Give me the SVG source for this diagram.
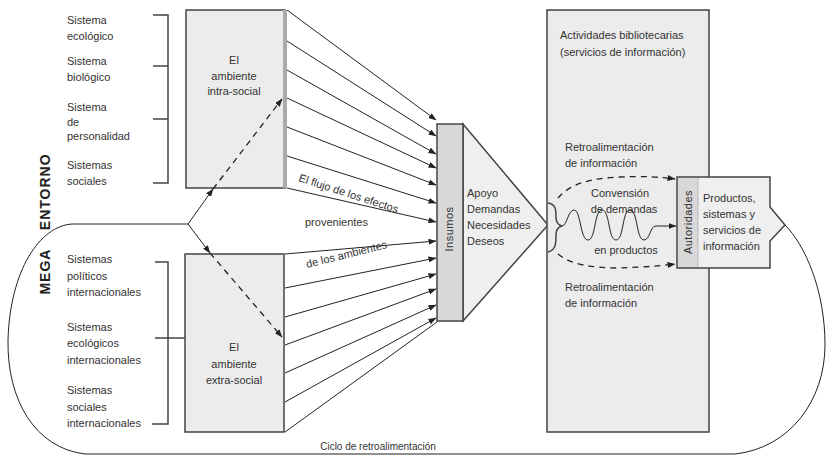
<svg xmlns="http://www.w3.org/2000/svg" width="826" height="456" viewBox="0 0 826 456">
<defs>
<marker id="ah" markerWidth="8" markerHeight="6" refX="7.5" refY="3" orient="auto" markerUnits="userSpaceOnUse">
<path d="M0,0 L8,3 L0,6 z" fill="#222"/>
</marker>
<style>
text{font-family:"Liberation Sans",Arial,sans-serif;font-size:11px;fill:#333}
.box{fill:#ececec;stroke:#444;stroke-width:1.5}
.strip{fill:#d8d8d8;stroke:none}
.ln{stroke:#222;stroke-width:1;fill:none}
.ar{stroke:#222;stroke-width:1;fill:none;marker-end:url(#ah)}
.da{stroke:#222;stroke-width:1.3;fill:none;stroke-dasharray:6 5;marker-end:url(#ah)}
.br{stroke:#444;stroke-width:1.5;fill:none}
.c{text-anchor:middle}
</style>
</defs>

<g id="mega-entorno">
<text transform="translate(50,224) rotate(-90)" class="c" style="font-size:14px;font-weight:bold;letter-spacing:1px;word-spacing:14px;fill:#222">MEGA ENTORNO</text>
</g>

<g id="intra-systems">
<text x="67" y="24">Sistema</text><text x="67" y="40">ecológico</text>
<text x="67" y="65">Sistema</text><text x="67" y="81">biológico</text>
<text x="67" y="111">Sistema</text><text x="67" y="126">de</text><text x="67" y="140">personalidad</text>
<text x="67" y="169">Sistemas</text><text x="67" y="185">sociales</text>
<path class="br" d="M153,15 H168 V183 H153 M153,66 H168 M153,119 H168"/>
</g>

<g id="extra-systems">
<text x="67" y="263">Sistemas</text><text x="67" y="280">políticos</text><text x="67" y="296">internacionales</text>
<text x="67" y="331">Sistemas</text><text x="67" y="347">ecológicos</text><text x="67" y="364">internacionales</text>
<text x="67" y="394">Sistemas</text><text x="67" y="411">sociales</text><text x="67" y="427">internacionales</text>
<path class="br" d="M155,262 H168 V424 H152 M155,338 H185"/>
</g>

<g id="intra-social">
<rect class="box" x="186" y="10" width="99" height="178"/>
<rect x="283" y="10" width="4" height="178" fill="#aaa"/>
<text class="c" x="234" y="64">El</text>
<text class="c" x="234" y="80">ambiente</text>
<text class="c" x="234" y="95">intra-social</text>
</g>

<g id="extra-social">
<rect class="box" x="185" y="254" width="99" height="178"/>
<text class="c" x="234" y="351">El</text>
<text class="c" x="234" y="368">ambiente</text>
<text class="c" x="234" y="384">extra-social</text>
</g>

<g id="insumos">
<polygon points="463,124 548,225 463,321" fill="#efefef" stroke="#444" stroke-width="1.5"/>
<rect x="437" y="124" width="26" height="197" fill="#d8d8d8" stroke="#444" stroke-width="1.5"/>
<text transform="translate(453,229) rotate(-90)" class="c" style="letter-spacing:0.5px">Insumos</text>
<text x="467" y="197">Apoyo</text>
<text x="467" y="213">Demandas</text>
<text x="467" y="229">Necesidades</text>
<text x="467" y="245">Deseos</text>
</g>

<g id="actividades">
<rect class="box" x="547" y="10" width="162" height="422"/>
<text x="560" y="39">Actividades bibliotecarias</text>
<text x="560" y="56">(servicios de información)</text>
<text x="565" y="151">Retroalimentación</text>
<text x="565" y="167">de información</text>
<text x="565" y="291">Retroalimentación</text>
<text x="565" y="307">de información</text>
<text class="c" x="620" y="197">Convensión</text>
<text class="c" x="624" y="213">de demandas</text>
<text class="c" x="626" y="254">en productos</text>
</g>

<g id="productos">
<polygon points="677,177 770,177 770,207 785,225 770,241 770,268 677,268" fill="#efefef" stroke="#444" stroke-width="1.5"/>
<rect x="678" y="178" width="20" height="89" fill="#d8d8d8"/>
<line x1="698" y1="178" x2="698" y2="267" stroke="#bbb" stroke-width="1"/>
<text transform="translate(692,222) rotate(-90)" class="c" style="letter-spacing:0.5px">Autoridades</text>
<text x="703" y="202">Productos,</text>
<text x="703" y="218">sistemas y</text>
<text x="703" y="234">servicios de</text>
<text x="703" y="250">información</text>
</g>

<g id="labels">
<text transform="translate(298,181) rotate(18)">El flujo de los efectos</text>
<text x="305" y="226">provenientes</text>
<text transform="translate(307,268) rotate(-14)">de los ambientes</text>
<text class="c" x="378" y="450" style="font-size:10px">Ciclo de retroalimentación</text>
</g>

<g id="connectors">
<path class="ln" d="M188,224 L72,224 C40,226 10,270 8,340 C7,400 35,448 85,454 L735,454 C790,448 825,400 825,345 C825,290 805,245 785,225"/>
<path class="ar" d="M188,224 L213,189"/>
<path class="ar" d="M188,224 L210,253"/>
<path class="da" d="M213,189 L282,99"/>
<path class="da" d="M210,253 L282,337"/>
<path class="ar" d="M287,10 L436,120"/>
<path class="ar" d="M287,41 L436,136"/>
<path class="ar" d="M287,70 L436,154"/>
<path class="ar" d="M287,98 L436,168"/>
<path class="ar" d="M287,127 L436,185"/>
<path class="ar" d="M287,156 L436,203"/>
<path class="ar" d="M287,188 L436,222"/>
<path class="ar" d="M285,254 L436,241"/>
<path class="ar" d="M285,288 L436,258"/>
<path class="ar" d="M285,317 L436,274"/>
<path class="ar" d="M285,345 L436,289"/>
<path class="ar" d="M285,373 L436,305"/>
<path class="ar" d="M285,402 L436,318"/>
<path class="ln" d="M285,432 L437,322"/>
<path class="br" d="M548,203 C556,204 556,210 556,217 C556,222 558,225 562,226 C558,227 556,230 556,235 C556,243 556,250 548,252"/>
<path class="ar" d="M562,226 C567,226 568,210 574,210 C581,210 580,240 588,240 C596,240 594,210 602,210 C610,210 608,240 616,240 C624,240 622,210 630,210 C638,210 636,240 644,240 C650,240 650,226 656,226 L676,226"/>
<path class="da" d="M558,198 C570,184 590,178 620,177 C645,176 660,177 675,179"/>
<path class="da" d="M558,254 C570,264 590,268 620,268 C645,267 660,266 675,264"/>
</g>
</svg>
